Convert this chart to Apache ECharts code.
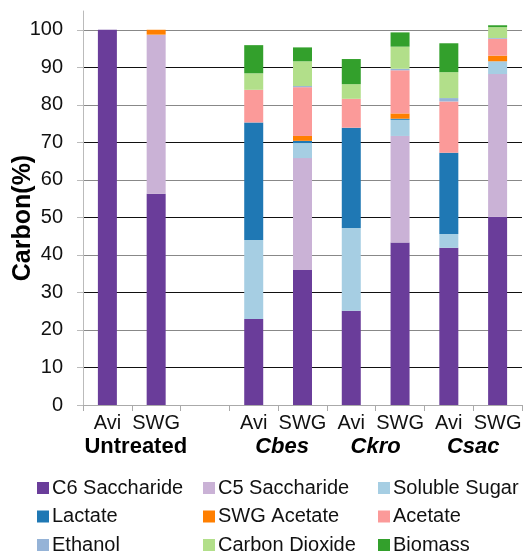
<!DOCTYPE html>
<html>
<head>
<meta charset="utf-8">
<script src="https://cdn.jsdelivr.net/npm/echarts@6/dist/echarts.min.js"></script>
<style>html,body{margin:0;padding:0;background:#fff;}#c{width:525px;height:555px;}</style>
</head>
<body>
<div id="c"></div>
<script>
const categories = ['Avi', 'SWG', '', 'Avi', 'SWG', 'Avi', 'SWG', 'Avi', 'SWG'];
const groupLabels = ['', 'Untreated', '', '', 'Cbes', '', 'Ckro', '', 'Csac', ''];
const italicGroups = ['Cbes', 'Ckro', 'Csac'];

const c6Saccharide  = [100, 56.3, null, 22.9, 36.0, 25.1, 43.3, 41.9, 50.2];
const c5Saccharide  = [0, 42.4, null, 0, 29.8, 0, 28.4, 0, 38.0];
const solubleSugar  = [0, 0, null, 21.1, 4.0, 22.1, 4.3, 3.7, 3.4];
const lactate       = [0, 0, null, 31.3, 0.6, 26.7, 0.3, 21.6, 0];
const swgAcetate    = [0, 1.3, null, 0, 1.3, 0, 1.4, 0, 1.5];
const acetate       = [0, 0, null, 8.7, 13.0, 7.7, 11.5, 13.7, 4.5];
const ethanol       = [0, 0, null, 0, 0.3, 0, 0.4, 0.9, 0.2];
const carbonDioxide = [0, 0, null, 4.4, 6.6, 3.9, 5.9, 6.9, 2.9];
const biomass       = [0, 0, null, 7.5, 3.7, 6.7, 3.8, 7.7, 0.5];

const seriesNames = ['C6 Saccharide', 'C5 Saccharide', 'Soluble Sugar', 'Lactate', 'SWG Acetate', 'Acetate', 'Ethanol', 'Carbon Dioxide', 'Biomass'];
const seriesData = [c6Saccharide, c5Saccharide, solubleSugar, lactate, swgAcetate, acetate, ethanol, carbonDioxide, biomass];
const colors = ['#6A3D9A', '#CAB2D6', '#A6CEE3', '#1F78B4', '#FF7F00', '#FB9A99', '#95B3D7', '#B2DF8A', '#33A02C'];

const FONT = 'Liberation Sans, Arial, Helvetica, sans-serif';
const chart = echarts.init(document.getElementById('c'));

const legendCols = [
  [seriesNames[0], seriesNames[3], seriesNames[6]],
  [seriesNames[1], seriesNames[4], seriesNames[7]],
  [seriesNames[2], seriesNames[5], seriesNames[8]]
];
const legendLefts = [37, 203, 378];

chart.setOption({
  animation: false,
  color: colors,
  textStyle: { fontFamily: FONT },
  grid: { left: 83, right: 1, top: 11, bottom: 150, containLabel: false },
  legend: legendCols.map((d, i) => ({
    data: d,
    orient: 'vertical',
    left: legendLefts[i],
    top: 478,
    height: 120,
    padding: 0,
    icon: 'rect',
    itemWidth: 12,
    itemHeight: 12,
    itemGap: 8.5,
    selectedMode: false,
    textStyle: { fontFamily: FONT, fontSize: 20, color: '#111', padding: [0, 0, 0, -2] }
  })),
  xAxis: [
    {
      type: 'category',
      data: categories,
      axisLine: { show: true, lineStyle: { color: '#aaa', width: 1 } },
      axisTick: { show: true, length: 6, alignWithLabel: false, interval: 0, lineStyle: { color: '#aaa' } },
      axisLabel: { interval: 0, fontSize: 20, color: '#111', margin: 8, fontFamily: FONT },
      splitLine: { show: false }
    },
    {
      type: 'category',
      data: groupLabels,
      boundaryGap: false,
      position: 'bottom',
      offset: 23,
      axisLine: { show: false },
      axisTick: { show: false },
      splitLine: { show: false },
      axisLabel: {
        interval: 0,
        margin: 8,
        formatter: (v, idx) => {
          if (!v) return '';
          const shifted = idx < 5;
          if (italicGroups.includes(v)) return (shifted ? '{is|' : '{i|') + v + '}';
          return (shifted ? '{bs|' : '{b|') + v + '}';
        },
        rich: {
          b: { fontSize: 22, fontWeight: 'bold', color: '#000', fontFamily: FONT },
          bs: { fontSize: 22, fontWeight: 'bold', color: '#000', fontFamily: FONT, padding: [0, 0, 0, 8] },
          i: { fontSize: 22, fontWeight: 'bold', fontStyle: 'italic', color: '#000', fontFamily: FONT },
          is: { fontSize: 22, fontWeight: 'bold', fontStyle: 'italic', color: '#000', fontFamily: FONT, padding: [0, 0, 0, 8] }
        }
      }
    }
  ],
  yAxis: {
    type: 'value',
    min: 0,
    max: 105,
    interval: 10,
    name: 'Carbon(%)',
    nameLocation: 'middle',
    nameGap: 47,
    nameMoveOverlap: false,
    nameTextStyle: { fontSize: 25, fontWeight: 'bold', color: '#000', fontFamily: FONT, padding: [0, 20, 0, 0] },
    axisLine: { show: true, lineStyle: { color: '#bbb', width: 1 } },
    axisTick: { show: true, length: 6, lineStyle: { color: '#bbb' } },
    axisLabel: { fontSize: 20, color: '#111', margin: 20, showMaxLabel: false, fontFamily: FONT },
    splitLine: { show: true, showMaxLine: false, lineStyle: { color: ['#888', '#111'], width: 1 } }
  },
  series: seriesNames.map((n, i) => ({
    name: n,
    type: 'bar',
    stack: 'total',
    barWidth: 19,
    xAxisIndex: 0,
    data: seriesData[i],
    itemStyle: { color: colors[i] }
  }))
});
</script>
</body>
</html>
